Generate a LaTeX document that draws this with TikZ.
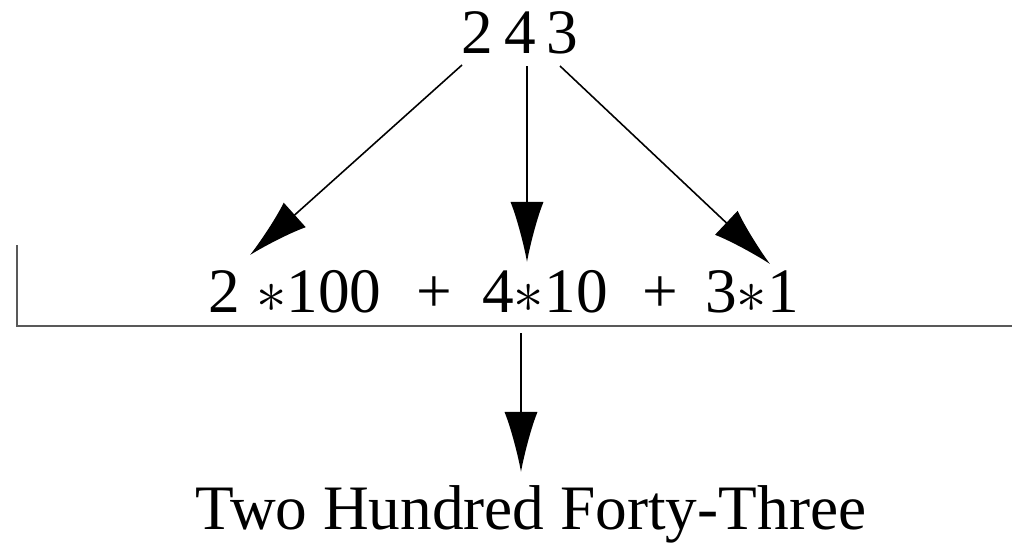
\documentclass[tikz,border=0pt]{standalone}
\usepackage{fontspec}
\setmainfont{Liberation Serif}
\usetikzlibrary{arrows.meta}

\begin{document}
\begin{tikzpicture}[x=0.01cm, y=-0.01cm,
    txt/.style={inner sep=0pt, anchor=base, font=\fontsize{18}{22}\selectfont},
    conn/.style={-{Latex[length=0.6cm, width=0.33cm]}, line width=0.45pt, black},
    rule/.style={line width=0.7pt, black!65}]
  \useasboundingbox (0,0) rectangle (1012,542);

  % number on top
  \node[txt] (d2) at (477,53) {2};
  \node[txt] (d4) at (520,53) {4};
  \node[txt] (d3) at (562,53) {3};

  % expansion
  \node[txt] (t2) at (295,312) {2 $\ast$100};
  \node[txt] (p1) at (434,312) {+};
  \node[txt] (t4) at (545,312) {4$\ast$10};
  \node[txt] (p2) at (660,312) {+};
  \node[txt] (t3) at (752,312) {3$\ast$1};

  % result
  \node[txt] (res) at (531,529) {Two Hundred Forty-Three};

  % bracket under the expansion
  \coordinate (bl) at (17,245);
  \coordinate (bc) at (17,326);
  \coordinate (br) at (1012,326);
  \draw[rule] (bl) -- (bc) -- (br);

  % arrows from the digits
  \coordinate (s2) at (462,65);
  \coordinate (s4) at (527,66);
  \coordinate (s3) at (560,66);
  \coordinate (a2) at (250,255);
  \coordinate (a4) at (527,262);
  \coordinate (a3) at (770,264);
  \draw[conn] (s2) -- (a2);
  \draw[conn] (s4) -- (a4);
  \draw[conn] (s3) -- (a3);

  % arrow to the result
  \coordinate (b0) at (521,333);
  \coordinate (b1) at (521,472);
  \draw[conn] (b0) -- (b1);
\end{tikzpicture}
\end{document}
